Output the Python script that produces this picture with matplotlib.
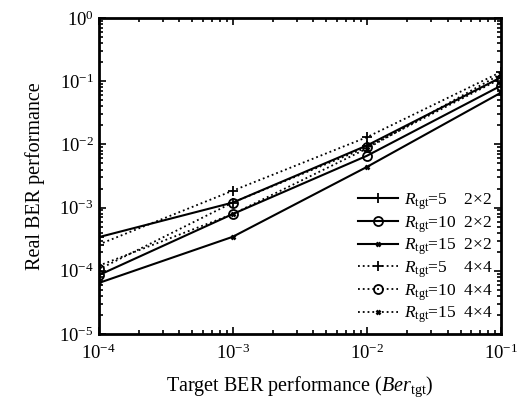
import matplotlib
matplotlib.use("Agg")
import matplotlib.pyplot as plt
from matplotlib.ticker import LogLocator, NullFormatter

plt.rcParams["font.family"] = ["Liberation Serif", "DejaVu Serif"]
plt.rcParams["mathtext.fontset"] = "custom"
plt.rcParams["mathtext.rm"] = "Liberation Serif"
plt.rcParams["mathtext.it"] = "Liberation Serif:italic"

# Target BER values (x) and measured real BER for each configuration
target_ber = [1e-4, 1e-3, 1e-2, 1e-1]
r5_2x2 = [3.4e-4, 1.2e-3, 9.6e-3, 0.115]
r10_2x2 = [8.5e-5, 7.9e-4, 6.6e-3, 0.085]
r15_2x2 = [6.4e-5, 3.45e-4, 4.4e-3, 0.066]
r5_4x4 = [2.6e-4, 1.85e-3, 1.3e-2, 0.14]
r10_4x4 = [1.05e-4, 1.2e-3, 9.0e-3, 0.11]
r15_4x4 = [1.2e-4, 7.9e-4, 8.6e-3, 0.13]

labels = [r"$R_{\rm tgt}$=5    2×2", r"$R_{\rm tgt}$=10  2×2", r"$R_{\rm tgt}$=15  2×2",
          r"$R_{\rm tgt}$=5    4×4", r"$R_{\rm tgt}$=10  4×4", r"$R_{\rm tgt}$=15  4×4"]
series = [r5_2x2, r10_2x2, r15_2x2, r5_4x4, r10_4x4, r15_4x4]
styles = [("-", "+"), ("-", "o"), ("-", "x"), (":", "+"), (":", "o"), (":", "x")]

fig = plt.figure(figsize=(5.28, 4.05), dpi=100)
ax = fig.add_axes([0.1866, 0.1753, 0.7624, 0.7803])

for vals, lab, (ls, mk) in zip(series, labels, styles):
    size = {"+": 6.5, "o": 6.5, "x": 3.2}[mk]
    ax.plot(target_ber, vals, color="black", linestyle=ls,
            linewidth=1.5 if ls == "-" else 1.3, marker=mk, markersize=size,
            markerfacecolor="none", markeredgecolor="black",
            markeredgewidth=1.3 if mk != "x" else 1.8, label=lab)

ax.set_xscale("log")
ax.set_yscale("log")
ax.set_xlim(1e-4, 1e-1)
ax.set_ylim(1e-5, 1e0)
ax.xaxis.set_minor_locator(LogLocator(base=10, subs=range(2, 10), numticks=20))
ax.yaxis.set_minor_locator(LogLocator(base=10, subs=range(2, 10), numticks=20))
ax.xaxis.set_minor_formatter(NullFormatter())
ax.yaxis.set_minor_formatter(NullFormatter())
ax.tick_params(which="both", direction="in", top=True, right=True, labelsize=13.5, width=1.2)
ax.tick_params(which="major", length=5)
ax.tick_params(which="minor", length=3)
ax.tick_params(axis="x", pad=7)
for sp in ax.spines.values():
    sp.set_linewidth(2)

ax.set_xlabel(r"Target BER performance ($Ber_{\rm tgt}$)", fontsize=14.5, labelpad=8)
ax.set_ylabel("Real BER performance", fontsize=14.5, labelpad=10)

ax.legend(loc="lower right", frameon=False, fontsize=12.5, handlelength=2.3,
          handletextpad=0.3, labelspacing=0.12, borderaxespad=0.1)

fig.savefig("out.png", dpi=100)
